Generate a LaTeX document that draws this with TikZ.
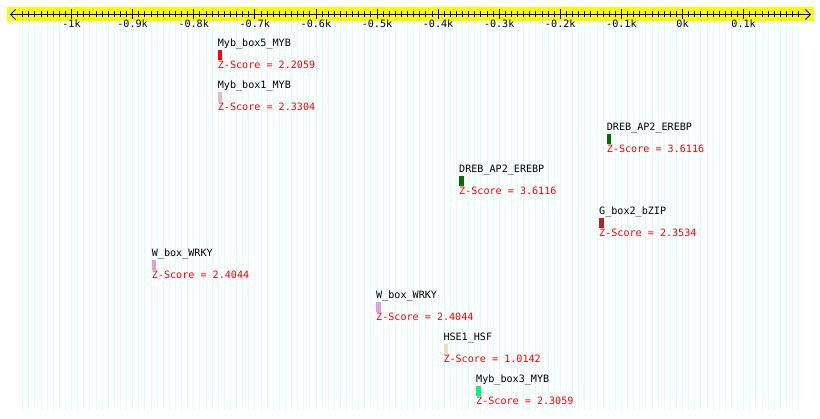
\documentclass[tikz,border=0pt]{standalone}
\usepackage{fontspec}
\setmonofont{DejaVu Sans Mono}
\usetikzlibrary{arrows.meta}
\definecolor{gridc}{rgb}{0.86,1,1}
\definecolor{bandc}{rgb}{1,1,0}
\definecolor{cmybfive}{rgb}{1,0,0}
\definecolor{cmybone}{RGB}{216,191,216}
\definecolor{cdreb}{RGB}{0,110,0}
\definecolor{cgbox}{RGB}{168,40,40}
\definecolor{cwbox}{RGB}{221,160,221}
\definecolor{chse}{RGB}{245,222,179}
\definecolor{cmybthree}{RGB}{0,245,125}
\tikzset{
  lbl/.style={font=\ttfamily\fontsize{10.1}{12}\selectfont, inner sep=0pt, anchor=base west},
  namelbl/.style={lbl, text=black},
  zlbl/.style={lbl, text=red},
  axlbl/.style={font=\ttfamily\fontsize{10.1}{12}\selectfont, inner sep=0pt, anchor=base},
  featbar/.style={draw=none, inner sep=0pt, minimum width=4.3pt, minimum height=10pt, anchor=north west},
}
\newcommand{\feat}[6]{% id, x, base y, name, colour, z
  \node[namelbl] (#1name) at (#2,#3) {#4};
  \node[featbar, fill=#5] (#1bar) at (#2,#3+2.5) {};
  \node[zlbl] (#1z) at (#2,#3+21.5) {Z-Score = #6};
}
\begin{document}
\begin{tikzpicture}[x=1pt,y=-1pt]
\useasboundingbox (0,0) rectangle (820,419);
\fill[white] (0,0) rectangle (820,419);
% grid
\foreach \i in {-108,...,19} {
  \draw[gridc, line width=0.8pt] ({682.5+6.11*\i},21) -- ({682.5+6.11*\i},410);
}
% band
\fill[bandc] (7,7) rectangle (814,21);
\coordinate (axL) at (10,14.5);
\coordinate (axR) at (811,14.5);
\draw[line width=0.8pt, {Straight Barb[length=5pt,width=10pt]}-{Straight Barb[length=5pt,width=10pt]}] (axL) -- (axR);
\foreach \i in {-108,...,19} {
  \pgfmathtruncatemacro{\m}{mod(abs(\i),10)}
  \ifnum\m=0
    \draw[line width=0.8pt] ({682.5+6.11*\i},9.5) -- ({682.5+6.11*\i},19.5);
  \else
    \draw[line width=0.8pt] ({682.5+6.11*\i},11.5) -- ({682.5+6.11*\i},17.5);
  \fi
}
\foreach \v/\t in {-10/-1k,-9/-0.9k,-8/-0.8k,-7/-0.7k,-6/-0.6k,-5/-0.5k,-4/-0.4k,-3/-0.3k,-2/-0.2k,-1/-0.1k,0/0k,1/0.1k} {
  \node[axlbl] (ax\v) at ({682.5+61.1*\v},27.5) {\t};
}
% features
\feat{fa}{217.7}{47}{Myb\_box5\_MYB}{cmybfive}{2.2059}
\feat{fb}{217.7}{89}{Myb\_box1\_MYB}{cmybone}{2.3304}
\feat{fc}{606.7}{131}{DREB\_AP2\_EREBP}{cdreb}{3.6116}
\feat{fd}{459}{173}{DREB\_AP2\_EREBP}{cdreb}{3.6116}
\feat{fe}{599}{215}{G\_box2\_bZIP}{cgbox}{2.3534}
\feat{ff}{151.7}{257}{W\_box\_WRKY}{cwbox}{2.4044}
\feat{fg}{376}{299}{W\_box\_WRKY}{cwbox}{2.4044}
\feat{fh}{443.3}{341}{HSE1\_HSF}{chse}{1.0142}
\feat{fi}{476}{383}{Myb\_box3\_MYB}{cmybthree}{2.3059}
\end{tikzpicture}
\end{document}
